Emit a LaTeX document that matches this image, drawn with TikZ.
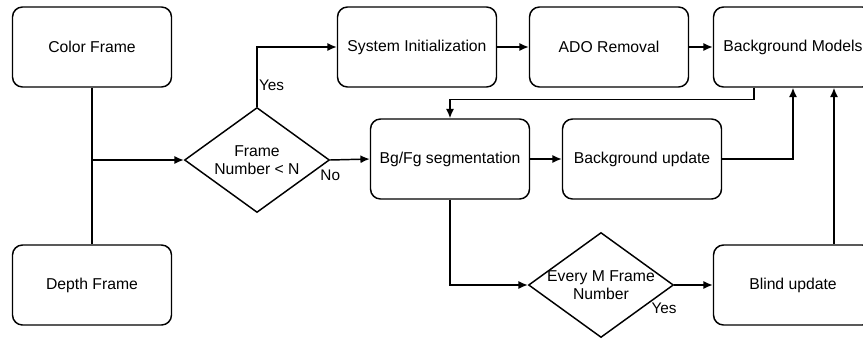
\documentclass[tikz,border=0pt]{standalone}
\usepackage{fontspec}
\setmainfont{Liberation Sans}
\usetikzlibrary{shapes.geometric,arrows.meta,positioning}

\tikzset{
    block/.style={draw, rounded corners=7.5pt, line width=1.1pt,
        minimum width=119.25pt, minimum height=60pt,
        font=\fontsize{11.8}{14}\selectfont},
    decision/.style={draw, diamond, line width=1.1pt, inner sep=0pt,
        minimum width=108.75pt, minimum height=78.75pt},
    intext/.style={align=center, font=\fontsize{11.8}{14}\selectfont},
    lbl/.style={font=\fontsize{11.5}{13}\selectfont, inner sep=1pt},
    arr/.style={line width=1.1pt, -{Latex[length=7pt,width=6pt]}},
    wire/.style={line width=1.1pt}
}

\begin{document}
\begin{tikzpicture}[x=0.75pt, y=-0.75pt]
    \useasboundingbox (0,0) rectangle (863,339);
    \clip (0,0) rectangle (863,339);

    % inputs
    \node[block] (color) at (92,47) {Color Frame};
    \node[block] (depth) at (92,285) {Depth Frame};

    % top row
    \node[decision] (check) at (257,160) {};
    \node[intext] (checktxt) at (check.center) {Frame\\Number < N};
    \node[block] (init) at (417,47) {System Initialization};
    \node[block] (ado) at (609,47) {ADO Removal};
    \node[block] (models) at (793,47) {Background Models};

    % middle row
    \node[block] (seg) at (450,159) {Bg/Fg segmentation};
    \node[block] (bgup) at (642,159) {Background update};

    % bottom row
    \node[decision] (every) at (601,285) {};
    \node[intext] (everytxt) at (every.center) {Every M Frame\\Number};
    \node[block] (blind) at (793,285) {Blind update};

    \coordinate (join) at (color.south |- check.west);
    \draw[wire] (color.south) -- (depth.north);
    \draw[arr] (join) -- (check.west);

    \draw[arr] (check.north) |- node[lbl, right, pos=0.18] (yes1) {Yes} (init.west);
    \draw[arr] (init) -- (ado);
    \draw[arr] (ado) -- (models);
    \draw[arr] ([xshift=-29.25pt]models.south) -- ++(0,12) -| (seg.north);

    \draw[arr] (check.east) -- (seg.west);
    \node[lbl, below=6pt] (no1) at (check.east) {No};
    \draw[arr] (seg) -- (bgup);
    \draw[arr] (bgup.east) -| (models.south);

    \draw[arr] (seg.south) |- (every.west);
    \draw[arr] (every.east) -- (blind.west);
    \node[lbl, anchor=north east] (yes2) at ([xshift=3pt,yshift=-12pt]every.east) {Yes};
    \draw[arr] ([xshift=30.75pt]blind.north) -- ([xshift=30.75pt]models.south);
\end{tikzpicture}
\end{document}
